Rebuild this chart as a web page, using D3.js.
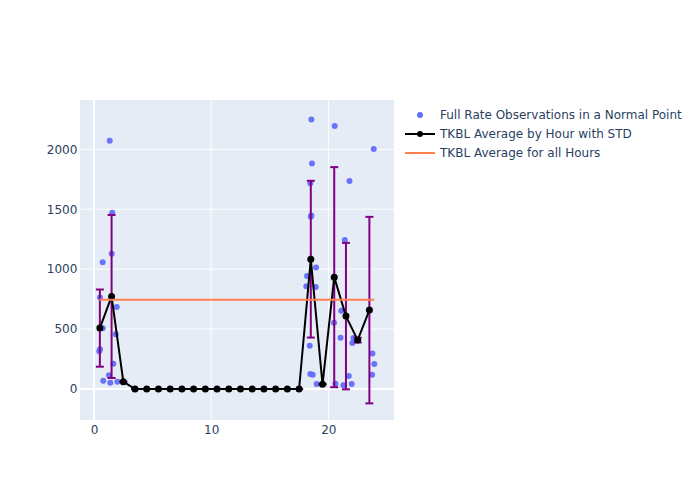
<!DOCTYPE html>
<html>
<head>
<meta charset="utf-8">
<script src="https://cdn.jsdelivr.net/npm/d3@7"></script>
<style>
  html, body { margin: 0; padding: 0; background: #fff; }
  svg { display: block; font-family: "DejaVu Sans", sans-serif; }
</style>
</head>
<body>
<svg id="chart" width="700" height="500"></svg>
<script>
// Observations (hour of day, value)
const obsHour = [0.45, 0.51, 0.51, 0.74, 0.74, 0.79,
  1.34, 1.56, 1.51, 1.94, 1.85, 1.65, 1.28, 1.39,
  2.0,
  18.55, 18.6, 18.46, 18.55, 18.5, 18.95, 18.18, 18.12, 18.92, 18.41, 18.46, 18.66,
  19.0,
  20.54, 20.48, 20.6,
  21.04, 21.1, 21.4, 21.8, 21.28, 21.74, 21.99,
  22.14, 22.05,
  23.76, 23.92, 23.73, 23.87];
const obsValue = [314, 331, 764, 506, 1058, 69,
  2072, 1470, 1128, 683, 456, 211, 114, 53,
  61,
  2248, 1881, 1717, 1448, 1436, 1014, 942, 858, 850, 361, 125, 119,
  42,
  2194, 553, 44,
  428, 653, 1242, 1736, 31, 108, 42,
  425, 383,
  297, 208, 119, 2003];

// Hourly averages with standard deviation
const avgHour = [0.5, 1.5, 2.5, 3.5, 4.5, 5.5, 6.5, 7.5, 8.5, 9.5, 10.5, 11.5,
  12.5, 13.5, 14.5, 15.5, 16.5, 17.5, 18.5, 19.5, 20.5, 21.5, 22.5, 23.5];
const avgValue = [508, 772, 61, 0, 0, 0, 0, 0, 0, 0, 0, 0,
  0, 0, 0, 0, 0, 0, 1083, 39, 933, 608, 408, 658];
const avgStd = [322, 680, 0, 0, 0, 0, 0, 0, 0, 0, 0, 0,
  0, 0, 0, 0, 0, 0, 654, 0, 918, 611, 20, 778];

// Overall average line
const overallX = [0.45, 23.92];
const overallValue = [744, 744];

const xTicks = [0, 10, 20];
const yTicks = [0, 500, 1000, 1500, 2000];

const legendLabels = ["Full Rate Observations in a Normal Point",
  "TKBL Average by Hour with STD", "TKBL Average for all Hours"];

const svg = d3.select("#chart");
const L = 80, R = 394, T = 100, B = 420;
const x = d3.scaleLinear().domain([-1.195, 25.6]).range([L, R]);
const y = d3.scaleLinear().domain([-258.7, 2411]).range([B, T]);
const textColor = "#2a3f5f";
const fs = 12;
const ff = '"DejaVu Sans", sans-serif';

svg.append("rect").attr("x", L).attr("y", T).attr("width", R - L).attr("height", B - T).attr("fill", "#e5ecf6");

// grid
const g = svg.append("g");
g.selectAll(".gx").data(xTicks).join("line")
  .attr("x1", d => x(d)).attr("x2", d => x(d)).attr("y1", T).attr("y2", B)
  .attr("stroke", "#fff").attr("stroke-width", d => d === 0 ? 2 : 1);
g.selectAll(".gy").data(yTicks).join("line")
  .attr("x1", L).attr("x2", R).attr("y1", d => y(d)).attr("y2", d => y(d))
  .attr("stroke", "#fff").attr("stroke-width", d => d === 0 ? 2 : 1);

// axes labels
const xAxis = d3.axisBottom(x).tickValues(xTicks).tickFormat(d3.format("d")).tickSize(0);
const ax = svg.append("g").attr("transform", `translate(0,${B})`).call(xAxis);
ax.select(".domain").remove();
ax.selectAll("text").attr("fill", textColor).attr("font-size", fs).attr("font-family", ff).attr("dy", "0.71em").attr("y", 5);

const yAxis = d3.axisLeft(y).tickValues(yTicks).tickFormat(d3.format("d")).tickSize(0).tickPadding(2.7);
const ay = svg.append("g").attr("transform", `translate(${L},0)`).call(yAxis);
ay.select(".domain").remove();
ay.selectAll("text").attr("fill", textColor).attr("font-size", fs).attr("font-family", ff);

const plot = svg.append("g");

// observations
plot.selectAll(".obs").data(obsHour).join("circle")
  .attr("cx", d => x(d)).attr("cy", (d, i) => y(obsValue[i])).attr("r", 3)
  .attr("fill", "#636efa").attr("opacity", 0.95);

// error bars
const eb = plot.append("g").attr("stroke", "purple").attr("stroke-width", 2).attr("fill", "none");
avgHour.forEach((h, i) => {
  const cx = x(h), top = y(avgValue[i] + avgStd[i]), bot = y(avgValue[i] - avgStd[i]);
  eb.append("line").attr("x1", cx).attr("x2", cx).attr("y1", top).attr("y2", bot);
  eb.append("line").attr("x1", cx - 4).attr("x2", cx + 4).attr("y1", top).attr("y2", top);
  eb.append("line").attr("x1", cx - 4).attr("x2", cx + 4).attr("y1", bot).attr("y2", bot);
});

// avg line
const line = d3.line().x(d => x(d[0])).y(d => y(d[1]));
plot.append("path").datum(avgHour.map((h, i) => [h, avgValue[i]]))
  .attr("d", line).attr("fill", "none").attr("stroke", "black").attr("stroke-width", 2);
plot.selectAll(".avg").data(avgHour).join("circle")
  .attr("cx", d => x(d)).attr("cy", (d, i) => y(avgValue[i])).attr("r", 3.5).attr("fill", "black");

// overall line
plot.append("path").datum(overallX.map((h, i) => [h, overallValue[i]]))
  .attr("d", line).attr("fill", "none").attr("stroke", "coral").attr("stroke-width", 2);

// legend
const lg = svg.append("g");
const ly = [115, 134, 153];
lg.append("circle").attr("cx", 420).attr("cy", ly[0]).attr("r", 3).attr("fill", "#636efa");
lg.append("line").attr("x1", 405).attr("x2", 435).attr("y1", ly[1]).attr("y2", ly[1]).attr("stroke", "black").attr("stroke-width", 2);
lg.append("circle").attr("cx", 420).attr("cy", ly[1]).attr("r", 3).attr("fill", "black");
lg.append("line").attr("x1", 405).attr("x2", 435).attr("y1", ly[2]).attr("y2", ly[2]).attr("stroke", "coral").attr("stroke-width", 2);
lg.selectAll(".lt").data(legendLabels).join("text")
  .attr("x", 440).attr("y", (d, i) => ly[i]).attr("dy", "0.35em")
  .attr("font-size", fs).attr("font-family", ff).attr("fill", textColor).text(d => d);
</script>
</body>
</html>
